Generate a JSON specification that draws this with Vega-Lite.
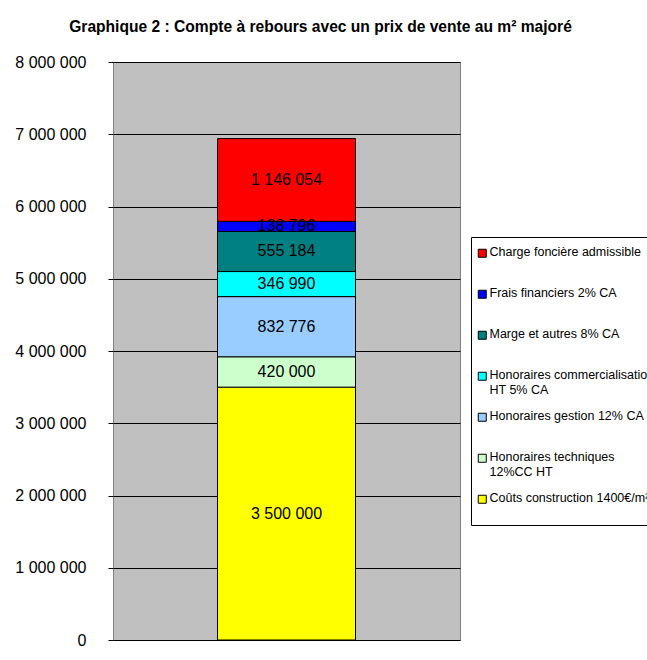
{
  "$schema": "https://vega.github.io/schema/vega-lite/v6.json",
  "width": 347,
  "height": 578,
  "autosize": {"type": "none"},
  "padding": {"left": 113, "top": 62, "right": 187, "bottom": 20},
  "background": "white",
  "title": {
    "text": "Graphique 2 : Compte à rebours avec un prix de vente au m² majoré",
    "font": "Liberation Sans",
    "fontSize": 15.6,
    "fontWeight": "bold",
    "color": "black",
    "anchor": "middle",
    "frame": "group",
    "baseline": "alphabetic",
    "dx": 34,
    "offset": 6
  },
  "config": {
    "locale": {"number": {"decimal": ",", "thousands": " ", "grouping": [3], "currency": ["", " €"]}},
    "view": {"fill": "#C0C0C0", "stroke": "#808080", "strokeWidth": 1}
  },
  "data": {
    "values": [
      {"poste": "Coûts construction 1400€/m²", "ordre": 1, "montant": 3500000},
      {"poste": "Honoraires techniques 12%CC HT", "ordre": 2, "montant": 420000},
      {"poste": "Honoraires gestion 12% CA", "ordre": 3, "montant": 832776},
      {"poste": "Honoraires commercialisation HT 5% CA", "ordre": 4, "montant": 346990},
      {"poste": "Marge et autres 8% CA", "ordre": 5, "montant": 555184},
      {"poste": "Frais financiers 2% CA", "ordre": 6, "montant": 138796},
      {"poste": "Charge foncière admissible", "ordre": 7, "montant": 1146054}
    ]
  },
  "encoding": {
    "x": {"datum": "Graphique 2", "type": "nominal", "axis": null},
    "y": {
      "field": "montant",
      "type": "quantitative",
      "stack": "zero",
      "scale": {"domain": [0, 8000000], "nice": false},
      "axis": {
        "title": null,
        "values": [0, 1000000, 2000000, 3000000, 4000000, 5000000, 6000000, 7000000, 8000000],
        "format": ",d",
        "labelFont": "Liberation Sans",
        "labelFontSize": 16,
        "labelColor": "black",
        "labelPadding": 22,
        "tickColor": "black",
        "tickSize": 5,
        "domain": false,
        "grid": true,
        "gridColor": "black",
        "gridOpacity": 1,
        "gridWidth": 1
      }
    },
    "order": {"field": "ordre", "type": "quantitative", "sort": "ascending"}
  },
  "layer": [
    {
      "mark": {"type": "bar", "size": 138, "stroke": "black", "strokeWidth": 1},
      "encoding": {
        "color": {
          "field": "poste",
          "type": "nominal",
          "scale": {
            "domain": [
              "Charge foncière admissible",
              "Frais financiers 2% CA",
              "Marge et autres 8% CA",
              "Honoraires commercialisation HT 5% CA",
              "Honoraires gestion 12% CA",
              "Honoraires techniques 12%CC HT",
              "Coûts construction 1400€/m²"
            ],
            "range": ["#FF0000", "#0000FF", "#008080", "#00FFFF", "#99CCFF", "#CCFFCC", "#FFFF00"]
          },
          "legend": {
            "orient": "none",
            "legendX": 358,
            "legendY": 175,
            "title": " ",
            "titleFontSize": 1,
            "titlePadding": 4,
            "direction": "vertical",
            "gridAlign": "all",
            "strokeColor": "black",
            "fillColor": "white",
            "padding": 5,
            "rowPadding": 13,
            "symbolType": "square",
            "symbolSize": 64,
            "symbolStrokeColor": "black",
            "symbolStrokeWidth": 1,
            "symbolOpacity": 1,
            "labelFont": "Liberation Sans",
            "labelFontSize": 12.5,
            "labelColor": "black",
            "labelLimit": 400,
            "labelOffset": 1,
            "labelBaseline": "top",
            "labelExpr": "datum.label == 'Honoraires commercialisation HT 5% CA' ? ['Honoraires commercialisation', 'HT 5% CA'] : datum.label == 'Honoraires techniques 12%CC HT' ? ['Honoraires techniques', '12%CC HT'] : datum.label == 'Coûts construction 1400€/m²' ? ['Coûts construction 1400€/m²', ' '] : datum.label",
            "encode": {"labels": {"update": {"dy": {"value": -7}}}}
          }
        }
      }
    },
    {
      "mark": {"type": "text", "font": "Liberation Sans", "fontSize": 16, "color": "black", "baseline": "middle"},
      "encoding": {
        "y": {"field": "montant", "type": "quantitative", "stack": "zero", "bandPosition": 0.5},
        "text": {"field": "montant", "type": "quantitative", "format": ",d"}
      }
    }
  ]
}
